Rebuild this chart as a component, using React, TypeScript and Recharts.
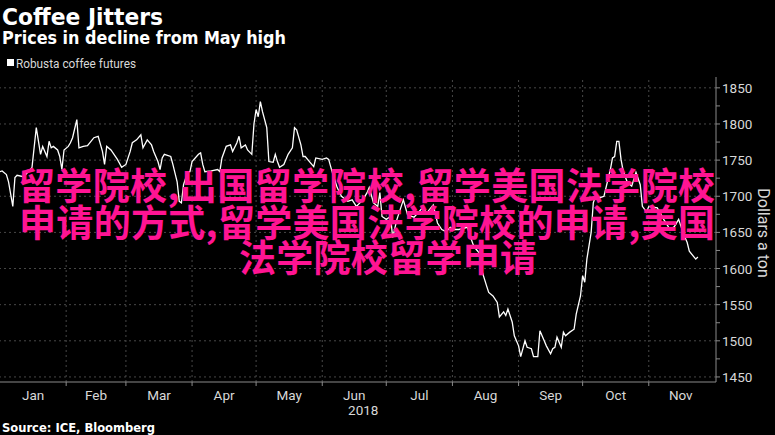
import React from 'react';
import { LineChart, Line, XAxis, YAxis, ReferenceLine } from 'recharts';

// day-of-year (0 = Jan 1, 2018) and Robusta price, dollars a ton
const DAYS = [
  0, 1, 3, 4, 6, 7, 8, 11, 13, 15, 17, 19, 20, 22, 23, 24, 25, 27, 28, 29, 30, 32, 33, 34, 36, 37,
  39, 41, 44, 46, 48, 49, 50, 52, 55, 57, 59, 61, 62, 64, 66, 67, 69, 71, 72, 74, 75, 76, 77, 80,
  81, 83, 84, 85, 86, 88, 89, 90, 93, 94, 95, 96, 99, 102, 103, 104, 106, 108, 109, 111, 112, 113,
  115, 116, 118, 119, 120, 121, 122, 123, 125, 126, 128, 129, 130, 131, 133, 135, 137, 138, 139,
  141, 142, 143, 145, 147, 148, 151, 153, 154, 156, 158, 160, 163, 165, 167, 170, 172, 173, 175,
  177, 178, 179, 181, 183, 184, 186, 189, 191, 194, 198, 200, 203, 205, 207, 209, 211, 213, 215,
  219, 220, 222, 223, 225, 226, 228, 229, 231, 233, 234, 236, 237, 238, 240, 241, 243, 244, 246,
  247, 249, 250, 252, 253, 255, 256, 258, 259, 260, 261, 263, 264, 265, 267, 269, 270, 272, 273,
  274, 275, 277, 278, 279, 281, 283, 286, 287, 288, 289, 290, 291, 292, 294, 296, 298, 300, 301,
  303, 304, 308, 311, 314, 316, 318, 320, 322, 323, 326, 327,
];
const PRICES = [
  1734, 1735, 1730, 1720, 1686, 1726, 1729, 1727, 1733, 1740, 1795, 1758, 1769, 1755, 1776, 1767,
  1769, 1764, 1755, 1737, 1764, 1769, 1774, 1781, 1806, 1767, 1769, 1770, 1781, 1783, 1762, 1744,
  1769, 1764, 1751, 1740, 1744, 1762, 1774, 1778, 1785, 1767, 1778, 1771, 1762, 1748, 1737, 1753,
  1758, 1755, 1744, 1720, 1693, 1691, 1716, 1734, 1734, 1748, 1758, 1760, 1744, 1734, 1735, 1737,
  1734, 1753, 1769, 1771, 1762, 1774, 1783, 1767, 1771, 1764, 1758, 1800, 1820, 1810, 1831, 1817,
  1795, 1748, 1747, 1758, 1748, 1740, 1744, 1758, 1767, 1795, 1792, 1771, 1755, 1755, 1748, 1741,
  1753, 1751, 1753, 1751, 1730, 1712, 1700, 1693, 1695, 1686, 1695, 1705, 1712, 1691, 1686, 1705,
  1672, 1668, 1672, 1643, 1668, 1695, 1674, 1671, 1684, 1677, 1688, 1663, 1654, 1651, 1657, 1654,
  1654, 1657, 1647, 1631, 1627, 1620, 1595, 1576, 1567, 1562, 1553, 1533, 1540, 1535, 1544, 1526,
  1507, 1493, 1478, 1500, 1491, 1489, 1478, 1478, 1514, 1500, 1493, 1482, 1489, 1491, 1505, 1491,
  1512, 1507, 1512, 1516, 1537, 1562, 1590, 1581, 1613, 1650, 1691, 1700, 1698, 1700, 1737, 1753,
  1755, 1776, 1776, 1751, 1735, 1719, 1714, 1733, 1716, 1686, 1678, 1686, 1684, 1668, 1654, 1658,
  1668, 1650, 1636, 1624, 1613, 1616,
];

const MONTHS = ['Jan', 'Feb', 'Mar', 'Apr', 'May', 'Jun', 'Jul', 'Aug', 'Sep', 'Oct', 'Nov'];
const MONTH_STARTS = [0, 31, 59, 90, 120, 151, 181, 212, 243, 273, 304, 334];
const Y_TICKS = [1450, 1475, 1500, 1525, 1550, 1575, 1600, 1625, 1650, 1675, 1700, 1725, 1750, 1775, 1800, 1825, 1850];
const Y_GRID = [1450, 1500, 1550, 1600, 1650, 1700, 1750, 1800, 1850];

const TITLE = 'Coffee Jitters';
const SUBTITLE = 'Prices in decline from May high';
const LEGEND = 'Robusta coffee futures';
const SOURCE = 'Source: ICE, Bloomberg';
const YEAR = '2018';
const Y_LABEL = 'Dollars a ton';
const OVERLAY = ['留学院校,出国留学院校,留学美国法学院校', '申请的方式,留学美国法学院校的申请,美国', '法学院校留学申请'];

const data = DAYS.map((d, i) => ({ day: d, price: PRICES[i] }));
const monthMids = MONTHS.map((_, i) => (MONTH_STARTS[i] + MONTH_STARTS[i + 1]) / 2);
const xTicks = [...MONTH_STARTS.slice(1, 11), ...monthMids];

const FONT = "Roboto, 'Liberation Sans', sans-serif";
const AXIS = '#8a8a8a';
const LABEL = '#d8d8d8';
const GRID = '#484848';

const XTick = (props: any) => {
  const { x, y, payload } = props;
  const v = payload.value;
  const mi = monthMids.indexOf(v);
  if (mi < 0) {
    return <line x1={x} x2={x} y1={y} y2={y + 4} stroke={AXIS} strokeWidth={1} />;
  }
  return (
    <g>
      <text x={x} y={y + 18} textAnchor="middle" fill={LABEL} fontSize={13.5} fontFamily={FONT}>
        {MONTHS[mi]}
      </text>
      {MONTHS[mi] === 'Jun' && (
        <text x={x + 9} y={y + 33} textAnchor="middle" fill={LABEL} fontSize={13.5} fontFamily={FONT}>
          {YEAR}
        </text>
      )}
    </g>
  );
};

const YTick = (props: any) => {
  const { x, y, payload } = props;
  const v = payload.value;
  return (
    <g>
      <line x1={x} x2={x + 4} y1={y} y2={y} stroke={AXIS} strokeWidth={1} />
      {v % 50 === 0 && (
        <text x={x + 6} y={y + 5} fill={LABEL} fontSize={13.5} fontFamily={FONT}>
          {v}
        </text>
      )}
    </g>
  );
};

export default function App() {
  return (
    <div style={{ position: 'absolute', left: 0, top: 0, width: 775, height: 435, background: '#000' }}>
      <LineChart width={775} height={435} data={data} margin={{ top: 77, right: 0, bottom: 0, left: 0 }}>
        {Y_GRID.map((v) => (
          <ReferenceLine key={'h' + v} y={v} stroke={GRID} strokeDasharray="2 3" />
        ))}
        {MONTH_STARTS.slice(1, 11).map((d) => (
          <ReferenceLine key={'v' + d} x={d} stroke={GRID} strokeDasharray="2 3" />
        ))}
        <XAxis
          dataKey="day"
          type="number"
          domain={[0, 335.5]}
          ticks={xTicks}
          interval={0}
          height={53}
          tickSize={0}
          tickMargin={0}
          tickLine={false}
          axisLine={{ stroke: AXIS }}
          tick={<XTick />}
        />
        <YAxis
          orientation="right"
          type="number"
          domain={[1443, 1865]}
          ticks={Y_TICKS}
          interval={0}
          width={59}
          tickSize={0}
          tickMargin={0}
          tickLine={false}
          axisLine={{ stroke: AXIS }}
          tick={<YTick />}
        />
        <Line
          type="linear"
          dataKey="price"
          stroke="#ffffff"
          strokeWidth={1.3}
          dot={false}
          isAnimationActive={false}
        />
      </LineChart>
      <svg width={775} height={435} style={{ position: 'absolute', left: 0, top: 0, pointerEvents: 'none' }}>
        <text x={2} y={25} fill="#fff" fontSize={23} fontWeight="bold" fontFamily="'DejaVu Sans', sans-serif" textLength={161} lengthAdjust="spacingAndGlyphs">
          {TITLE}
        </text>
        <text x={2} y={44} fill="#fff" fontSize={17} fontWeight="bold" fontFamily="'DejaVu Sans', sans-serif" textLength={284} lengthAdjust="spacingAndGlyphs">
          {SUBTITLE}
        </text>
        <rect x={7} y={59} width={7} height={7} fill="#fff" />
        <text x={16} y={68} fill={LABEL} fontSize={12.5} fontFamily={FONT} textLength={120} lengthAdjust="spacingAndGlyphs">
          {LEGEND}
        </text>
        <text x={2} y={432} fill="#fff" fontSize={12} fontWeight="bold" fontFamily="'DejaVu Sans', sans-serif" textLength={153} lengthAdjust="spacingAndGlyphs">
          {SOURCE}
        </text>
        <text
          x={758}
          y={233}
          fill={LABEL}
          fontSize={16}
          textAnchor="middle"
          fontFamily={FONT}
          transform="rotate(90 758 233)"
        >
          {Y_LABEL}
        </text>
        <g fill="#ff1493" fontSize={37} fontWeight="bold" fontFamily="'Noto Sans CJK SC', sans-serif">
          <text x={18} y={200} textLength={697} lengthAdjust="spacing">
            {OVERLAY[0]}
          </text>
          <text x={19} y={237} textLength={696} lengthAdjust="spacing">
            {OVERLAY[1]}
          </text>
          <text x={239} y={272} textLength={298} lengthAdjust="spacing">
            {OVERLAY[2]}
          </text>
        </g>
      </svg>
    </div>
  );
}
